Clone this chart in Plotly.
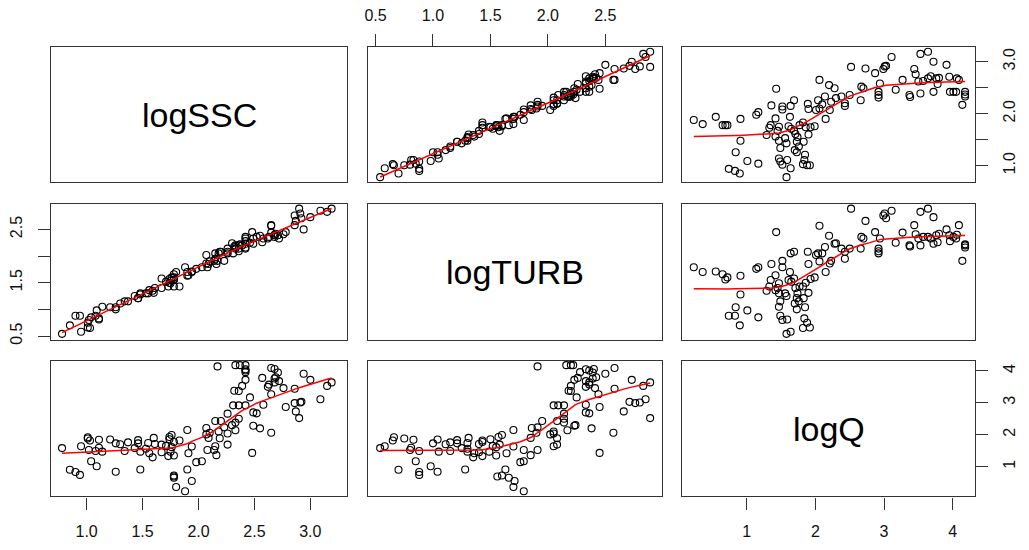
import numpy as np
import plotly.graph_objects as go

# ---------------- data ----------------
var_names = ["logSSC", "logTURB", "logQ"]

logQ = [0.23, 0.36, 0.55, 0.65, 0.69, 0.72, 0.91, 0.91, 0.84, 1.01,
        1.17, 0.74, 0.83, 0.90, 1.14, 1.17, 1.43, 1.36, 1.52, 1.52,
        1.42, 1.35, 1.33, 1.29, 1.47, 1.45, 1.42, 1.47, 1.49, 1.47,
        1.49, 1.52, 1.59, 1.64, 1.58, 1.58, 1.56, 1.63, 1.69, 1.64,
        1.61, 1.65, 1.69, 1.71, 1.74, 1.73, 1.70, 1.73, 1.76, 1.85,
        1.84, 1.82, 1.88, 1.92, 1.83, 1.90, 1.93, 1.99, 1.77, 1.82,
        1.86, 1.89, 1.90, 2.04, 2.06, 2.01, 2.10, 2.14, 2.06, 2.20,
        2.15, 2.28, 2.23, 2.30, 2.38, 2.43, 2.43, 2.50, 2.21, 2.52,
        2.66, 2.67, 2.70, 2.73, 2.87, 2.99, 3.03, 3.01, 3.11, 2.94,
        2.92, 2.92, 2.92, 3.17, 3.27, 3.37, 3.38, 3.53, 3.44, 3.46,
        3.53, 3.64, 3.72, 3.91, 3.50, 3.57, 3.64, 3.68, 3.76, 3.80,
        3.78, 3.72, 3.95, 4.06, 4.09, 3.96, 4.01, 4.05, 4.18, 4.18,
        4.18, 4.14]

logSSC = [1.88, 1.80, 1.94, 1.78, 1.78, 1.78, 1.90, 1.48, 1.26, 1.09,
          1.04, 0.94, 0.90, 0.85, 1.98, 2.03, 2.48, 2.16, 2.14, 2.08,
          1.91, 1.78, 1.73, 1.59, 1.75, 1.67, 1.56, 1.48, 1.34, 1.14,
          1.08, 1.02, 1.11, 0.95, 0.78, 1.43, 1.53, 1.94, 2.26, 2.15,
          1.76, 1.71, 1.67, 1.61, 1.55, 1.46, 1.30, 1.26, 1.37, 1.21,
          1.11, 1.03, 1.01, 1.01, 1.46, 1.60, 1.74, 1.76, 1.78, 1.83,
          1.74, 2.19, 2.09, 2.26, 2.10, 2.07, 2.18, 2.33, 2.65, 2.55,
          1.90, 2.49, 2.23, 2.30, 2.33, 2.20, 2.15, 2.36, 2.07, 2.90,
          2.26, 2.52, 2.49, 2.87, 2.78, 2.86, 2.92, 2.91, 3.09, 2.58,
          2.42, 2.36, 2.31, 2.46, 2.65, 2.36, 2.32, 2.39, 2.86, 2.76,
          3.15, 3.19, 3.00, 2.94, 2.62, 2.63, 2.68, 2.72, 2.68, 2.69,
          2.57, 2.42, 2.71, 2.68, 2.65, 2.42, 2.42, 2.42, 2.42, 2.37,
          2.33, 2.17]

logTURB = [1.79, 1.70, 1.71, 1.66, 1.56, 1.60, 1.63, 1.28, 1.04, 0.98,
           0.85, 0.88, 0.88, 0.70, 1.76, 1.79, 2.45, 1.85, 1.91, 1.79,
           1.64, 1.55, 1.43, 1.35, 1.49, 1.40, 1.36, 1.30, 1.15, 1.05,
           0.88, 0.80, 0.81, 0.58, 0.54, 1.25, 1.30, 1.70, 2.08, 2.05,
           1.55, 1.52, 1.58, 1.40, 1.30, 1.21, 1.11, 1.00, 1.15, 1.04,
           0.83, 0.65, 0.75, 0.66, 1.21, 1.31, 1.57, 1.60, 1.43, 1.43,
           1.50, 2.08, 1.85, 2.05, 1.90, 2.02, 2.05, 2.17, 2.57, 2.38,
           1.70, 2.23, 1.91, 2.24, 2.14, 2.08, 1.95, 2.14, 1.86, 2.89,
           2.14, 2.36, 2.33, 2.66, 2.45, 2.76, 2.71, 2.80, 2.85, 2.33,
           2.14, 2.09, 2.05, 2.25, 2.44, 2.20, 2.18, 2.20, 2.58, 2.41,
           2.83, 2.89, 2.73, 2.50, 2.33, 2.36, 2.36, 2.33, 2.39, 2.42,
           2.26, 2.23, 2.39, 2.40, 2.58, 2.28, 2.36, 2.33, 2.16, 2.22,
           2.20, 1.91]

ssc_ticks = [1.0, 1.5, 2.0, 2.5, 3.0]
ssc_bottom_labels = ["1.0", "1.5", "2.0", "2.5", "3.0"]
ssc_right_labels = ["1.0", "", "2.0", "", "3.0"]
turb_ticks = [0.5, 1.0, 1.5, 2.0, 2.5]
turb_top_labels = ["0.5", "1.0", "1.5", "2.0", "2.5"]
turb_left_labels = ["0.5", "", "1.5", "", "2.5"]
q_ticks = [1, 2, 3, 4]
q_labels = ["1", "2", "3", "4"]

data = [np.array(logSSC), np.array(logTURB), np.array(logQ)]


# ---------------- lowess (as in R's panel.smooth) ----------------
def lowess(x, y, f=2 / 3, iters=3):
    order = np.argsort(x, kind="stable")
    x = np.asarray(x, float)[order]
    y = np.asarray(y, float)[order]
    n = len(x)
    ns = max(min(int(f * n + 1e-7), n), 2)
    rw = np.ones(n)
    ys = np.zeros(n)
    for it in range(iters + 1):
        for i in range(n):
            d = np.abs(x - x[i])
            h = max(np.sort(d)[ns - 1], 1e-12)
            u = d / h
            w = np.where(u < 0.999, (1 - np.clip(u, 0, 1) ** 3) ** 3, 0.0)
            w = np.where(u <= 0.001, 1.0, w) * rw
            sw = w.sum()
            xm = (w * x).sum() / sw
            ym = (w * y).sum() / sw
            b = (w * (x - xm) ** 2).sum()
            slope = (w * (x - xm) * (y - ym)).sum() / b if b > 1e-10 else 0.0
            ys[i] = ym + slope * (x[i] - xm)
        if it == iters:
            break
        res = y - ys
        cmad = 6 * np.median(np.abs(res))
        if cmad < 1e-12:
            break
        r = res / cmad
        rw = np.where(np.abs(r) < 1, (1 - r ** 2) ** 2, 0.0)
    return x, ys


# ---------------- layout geometry ----------------
W, H = 1029, 550
OFF = 8  # the page body margin shifts the figure by 8 px
col_px = [(51.3, 346.7), (368.3, 662.0), (682.3, 974.7)]
row_px = [(47.3, 182.3), (204.0, 340.0), (361.0, 496.3)]
x_ranges = [[0.684, 3.325], [0.437, 2.993], [0.063, 4.32]]
y_ranges = [[0.681, 3.277], [0.425, 2.977], [0.07, 4.31]]

FONT = "Liberation Sans, Arial, sans-serif"
LINE_COL = "#333333"
TICK_FONT = dict(family=FONT, size=16, color="#111111")

fig = go.Figure()
layout = dict(
    width=W, height=H, margin=dict(l=0, r=0, t=0, b=0, pad=0, autoexpand=False),
    paper_bgcolor="white", plot_bgcolor="white", showlegend=False,
    annotations=[],
)

for r in range(3):
    for c in range(3):
        k = r * 3 + c + 1
        xs = "" if k == 1 else str(k)
        x0, x1 = col_px[c][0] - OFF, col_px[c][1] - OFF
        y0, y1 = row_px[r][0] - OFF, row_px[r][1] - OFF
        xa = dict(domain=[x0 / W, x1 / W], range=x_ranges[c], anchor="y" + xs,
                  showline=True, mirror=True, linecolor=LINE_COL, linewidth=1.4,
                  showgrid=False, zeroline=False, showticklabels=False, ticks="",
                  automargin=False)
        ya = dict(domain=[1 - y1 / H, 1 - y0 / H], range=y_ranges[r], anchor="x" + xs,
                  showline=True, mirror=True, linecolor=LINE_COL, linewidth=1.4,
                  showgrid=False, zeroline=False, showticklabels=False, ticks="",
                  automargin=False)
        tick_common = dict(ticks="outside", ticklen=12, tickwidth=1.2, tickcolor=LINE_COL,
                           showticklabels=True, tickfont=TICK_FONT, tickmode="array")
        # x axes
        if r == 0 and c == 1:
            xa.update(tick_common, side="top", tickvals=turb_ticks, ticktext=turb_top_labels,
                      ticklabelstandoff=7)
        if r == 2 and c == 0:
            xa.update(tick_common, side="bottom", tickvals=ssc_ticks, ticktext=ssc_bottom_labels,
                      ticklabelstandoff=8)
        if r == 2 and c == 2:
            xa.update(tick_common, side="bottom", tickvals=q_ticks, ticktext=q_labels,
                      ticklabelstandoff=8)
        # y axes
        if r == 1 and c == 0:
            ya.update(tick_common, side="left", tickvals=turb_ticks, ticktext=turb_left_labels,
                      tickangle=-90, ticklabelstandoff=10)
        if r == 0 and c == 2:
            ya.update(tick_common, side="right", tickvals=ssc_ticks, ticktext=ssc_right_labels,
                      tickangle=-90, ticklabelstandoff=8)
        if r == 2 and c == 2:
            ya.update(tick_common, side="right", tickvals=q_ticks, ticktext=q_labels,
                      tickangle=-90, ticklabelstandoff=8)
        layout["xaxis" + xs] = xa
        layout["yaxis" + xs] = ya

        if r == c:
            layout["annotations"].append(dict(
                text=var_names[r], x=(x0 + x1) / 2 / W, y=1 - (y0 + y1) / 2 / H,
                xref="paper", yref="paper", showarrow=False,
                font=dict(family=FONT, size=34, color="black"),
                xanchor="center", yanchor="middle"))
            # empty trace so the panel box and its axes are drawn
            fig.add_trace(go.Scatter(x=[None], y=[None], mode="markers",
                                     xaxis="x" + xs, yaxis="y" + xs, hoverinfo="skip"))
            continue

        xv, yv = data[c], data[r]
        fig.add_trace(go.Scatter(
            x=xv, y=yv, mode="markers", xaxis="x" + xs, yaxis="y" + xs,
            marker=dict(symbol="circle-open", size=7, color="black",
                        line=dict(width=1.1, color="black")),
            hoverinfo="skip"))
        lx, ly = lowess(xv, yv)
        fig.add_trace(go.Scatter(
            x=lx, y=ly, mode="lines", xaxis="x" + xs, yaxis="y" + xs,
            line=dict(color="red", width=1.5), hoverinfo="skip"))

fig.update_layout(**layout)
fig.write_html("out.html")
